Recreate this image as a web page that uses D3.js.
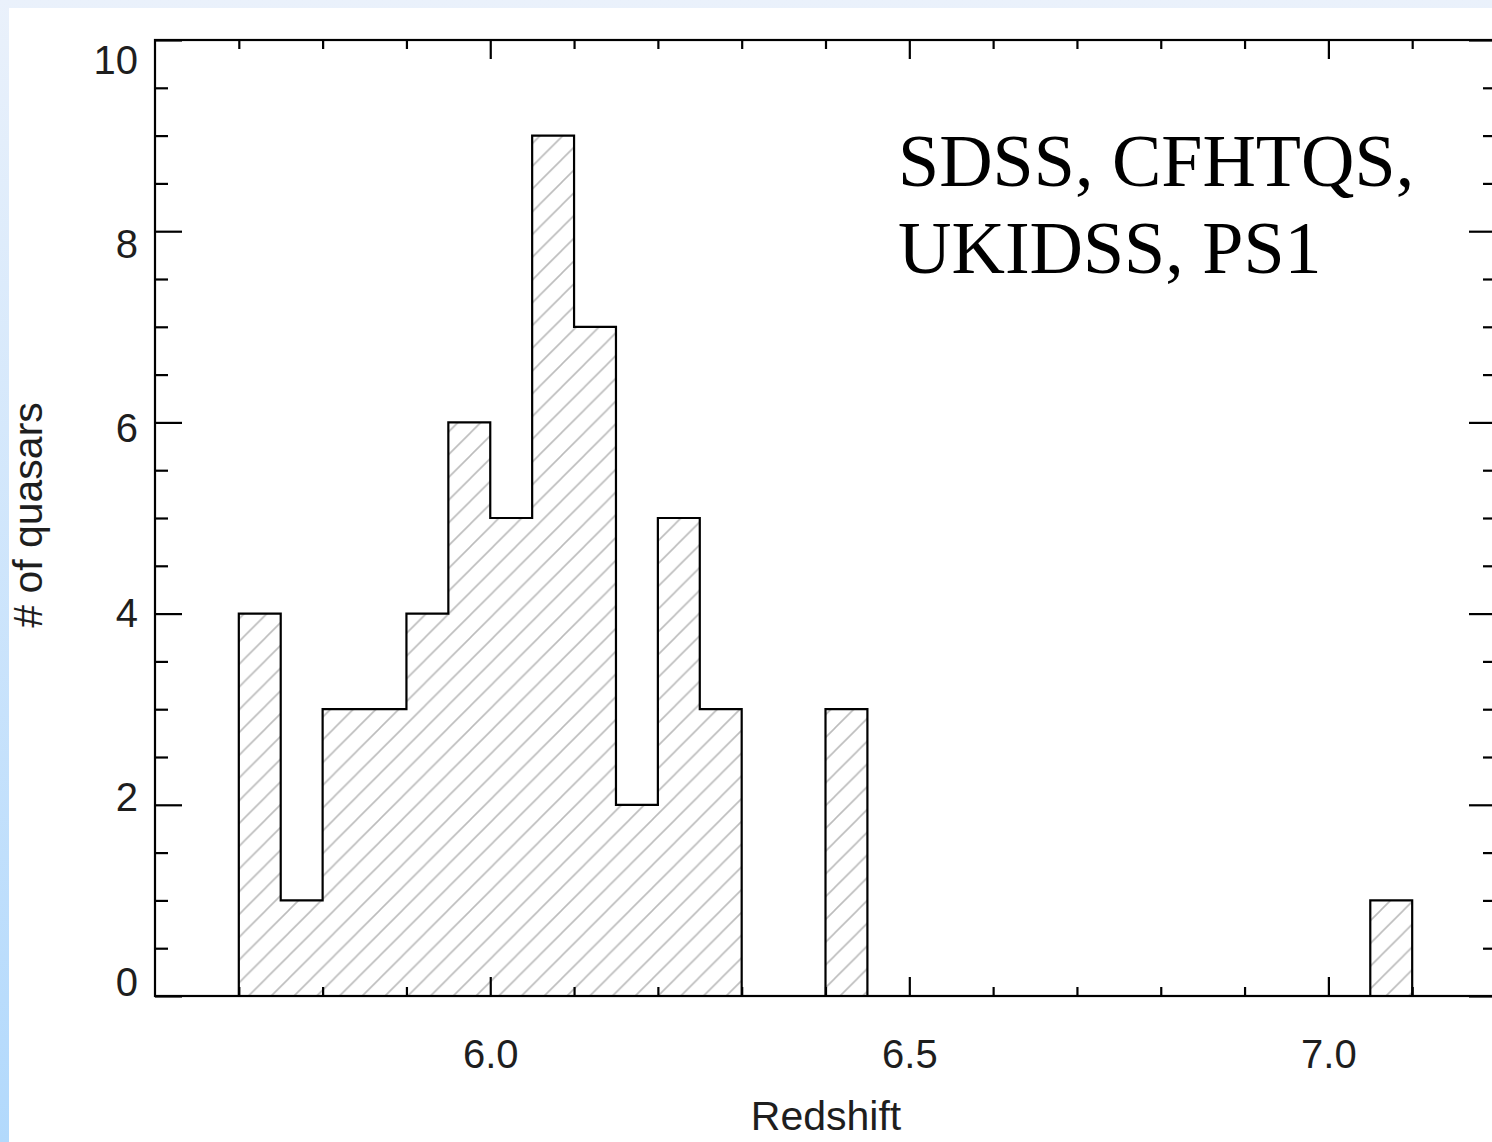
<!DOCTYPE html>
<html>
<head>
<meta charset="utf-8">
<script src="https://cdn.jsdelivr.net/npm/d3@7"></script>
<style>
  html, body { margin: 0; padding: 0; background: #fff; }
  svg { display: block; }
</style>
</head>
<body>
<svg id="chart" width="1492" height="1142"></svg>
<script>
// ---- data ----
const binLeft = [5.70, 5.75, 5.80, 5.85, 5.90, 5.95, 6.00, 6.05, 6.10, 6.15, 6.20, 6.25, 6.30, 6.35,
                 6.40, 6.45, 6.50, 6.55, 6.60, 6.65, 6.70, 6.75, 6.80, 6.85, 6.90, 6.95, 7.00, 7.05];
const counts  = [4, 1, 3, 3, 4, 6, 5, 9, 7, 2, 5, 3, 0, 0,
                 3, 0, 0, 0, 0, 0, 0, 0, 0, 0, 0, 0, 0, 1];
const binWidth = 0.05;
const xMajorTicks = [6.0, 6.5, 7.0];
const xMinorTicks = [5.7, 5.8, 5.9, 6.1, 6.2, 6.3, 6.4, 6.6, 6.7, 6.8, 6.9, 7.1];
const yMajorTicks = [0, 2, 4, 6, 8, 10];
const yMinorTicks = [0.5, 1, 1.5, 2.5, 3, 3.5, 4.5, 5, 5.5, 6.5, 7, 7.5, 8.5, 9, 9.5];
const xTickLabels = ["6.0", "6.5", "7.0"];
const yTickLabels = ["0", "2", "4", "6", "8", "10"];
const annotationLines = ["SDSS, CFHTQS,", "UKIDSS, PS1"];
const xTitle = "Redshift";
const yTitle = "# of quasars";

// ---- setup ----
const W = 1492, H = 1142;
const svg = d3.select("#chart");
const defs = svg.append("defs");

const bg = defs.append("linearGradient").attr("id", "bgGrad")
  .attr("x1", 0).attr("y1", 0).attr("x2", 0).attr("y2", 1);
bg.append("stop").attr("offset", "0%").attr("stop-color", "#eaf1fb");
bg.append("stop").attr("offset", "100%").attr("stop-color", "#b2d9fc");

const hs = 22.75;
const pat = defs.append("pattern").attr("id", "hatch")
  .attr("patternUnits", "userSpaceOnUse")
  .attr("width", hs).attr("height", hs)
  .attr("patternTransform", "translate(16,0)");
pat.append("path")
  .attr("d", `M0,${hs} L${hs},0 M${-2},2 L2,${-2} M${hs-2},${hs+2} L${hs+2},${hs-2}`)
  .attr("stroke", "#bcbcbc").attr("stroke-width", 1.6).attr("fill", "none");

svg.append("rect").attr("x", 0).attr("y", 0).attr("width", W).attr("height", H).attr("fill", "url(#bgGrad)");
svg.append("rect").attr("x", 9).attr("y", 8).attr("width", W - 9).attr("height", H - 8).attr("fill", "#ffffff");

const x = d3.scaleLinear().domain([5.6, 7.2]).range([155, 1496]);
const y = d3.scaleLinear().domain([0, 10]).range([996, 40]);
const yLab = d3.scaleLinear().domain([0, 10]).range([995, 73]);

// ---- histogram ----
const pts = binLeft.map((b, i) => ({ x: b, c: counts[i] }));
pts.push({ x: binLeft[binLeft.length - 1] + binWidth, c: 0 });

const area = d3.area().x(d => x(d.x)).y0(y(0)).y1(d => y(d.c)).curve(d3.curveStepAfter);
svg.append("path").datum(pts).attr("d", area).attr("fill", "url(#hatch)");

const linePts = [{ x: binLeft[0], c: 0 }].concat(pts);
const line = d3.line().x(d => x(d.x)).y(d => y(d.c)).curve(d3.curveStepAfter);
svg.append("path").datum(linePts).attr("d", line)
  .attr("fill", "none").attr("stroke", "#000").attr("stroke-width", 2.2);

// ---- axes ----
function styleAxis(g) {
  g.select(".domain").remove();
  g.selectAll(".tick line").attr("stroke", "#000").attr("stroke-width", 2.2);
  g.attr("font-family", "'Liberation Sans', Arial, sans-serif").attr("font-size", 40);
  g.selectAll(".tick text").attr("fill", "#1e1e1e");
}

// bottom
svg.append("g").attr("transform", `translate(0,${y(0)})`)
  .call(d3.axisBottom(x).tickValues(xMinorTicks).tickSize(-9).tickFormat(""))
  .call(styleAxis);
const xb = svg.append("g").attr("transform", `translate(0,${y(0)})`)
  .call(d3.axisBottom(x).tickValues(xMajorTicks).tickSize(-19).tickFormat((d, i) => xTickLabels[i]))
  .call(styleAxis);
xb.selectAll(".tick text").attr("y", 72).attr("dy", 0);

// top
svg.append("g").attr("transform", `translate(0,${y(10)})`)
  .call(d3.axisTop(x).tickValues(xMinorTicks).tickSize(-9).tickFormat(""))
  .call(styleAxis);
svg.append("g").attr("transform", `translate(0,${y(10)})`)
  .call(d3.axisTop(x).tickValues(xMajorTicks).tickSize(-19).tickFormat(""))
  .call(styleAxis);

// left
svg.append("g").attr("transform", `translate(${x(5.6)},0)`)
  .call(d3.axisLeft(y).tickValues(yMinorTicks).tickSize(-13).tickFormat(""))
  .call(styleAxis);
const yl = svg.append("g").attr("transform", `translate(${x(5.6)},0)`)
  .call(d3.axisLeft(y).tickValues(yMajorTicks).tickSize(-27).tickPadding(17).tickFormat((d, i) => yTickLabels[i]))
  .call(styleAxis);
yl.selectAll(".tick text").attr("dy", 0).attr("y", d => yLab(d) - y(d)).attr("x", -17);

// right
svg.append("g").attr("transform", `translate(${x(7.2)},0)`)
  .call(d3.axisRight(y).tickValues(yMinorTicks).tickSize(-13).tickFormat(""))
  .call(styleAxis);
svg.append("g").attr("transform", `translate(${x(7.2)},0)`)
  .call(d3.axisRight(y).tickValues(yMajorTicks).tickSize(-27).tickFormat(""))
  .call(styleAxis);

// frame
svg.append("rect")
  .attr("x", x(5.6)).attr("y", y(10))
  .attr("width", x(7.2) - x(5.6)).attr("height", y(0) - y(10))
  .attr("fill", "none").attr("stroke", "#000").attr("stroke-width", 2.2);

// ---- titles ----
svg.append("text")
  .attr("x", 826).attr("y", 1130)
  .attr("text-anchor", "middle")
  .attr("font-family", "'Liberation Sans', Arial, sans-serif").attr("font-size", 41)
  .attr("fill", "#1e1e1e").text(xTitle);

svg.append("text")
  .attr("transform", "translate(42,515) rotate(-90)")
  .attr("text-anchor", "middle")
  .attr("font-family", "'Liberation Sans', Arial, sans-serif").attr("font-size", 41)
  .attr("fill", "#1e1e1e").text(yTitle);

// ---- annotation ----
svg.append("g").selectAll("text").data(annotationLines).join("text")
  .attr("x", 898)
  .attr("y", (d, i) => 186 + i * 87)
  .attr("font-family", "'Liberation Serif', 'Times New Roman', serif")
  .attr("font-size", 74)
  .attr("fill", "#000")
  .text(d => d);
</script>
</body>
</html>
